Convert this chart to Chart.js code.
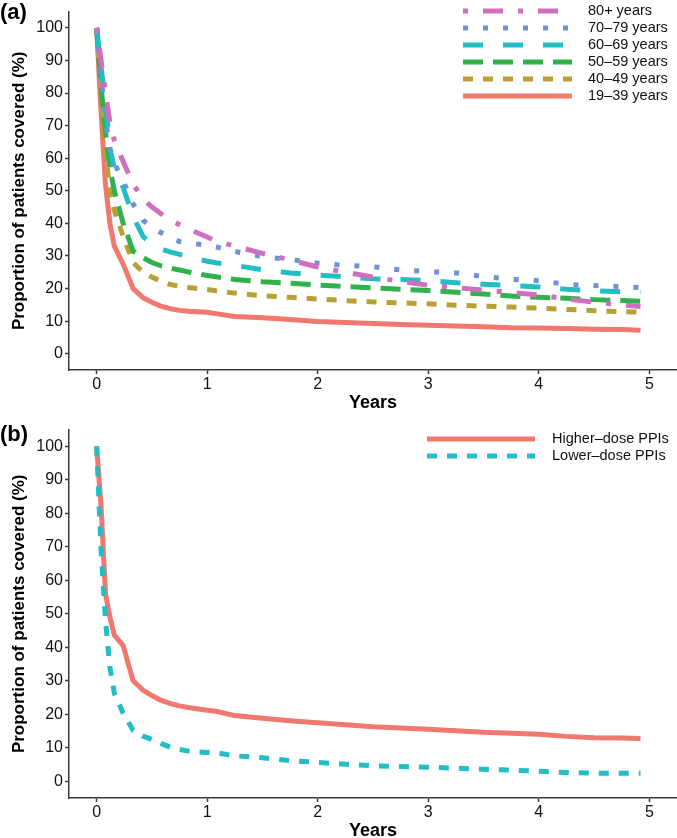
<!DOCTYPE html>
<html>
<head>
<meta charset="utf-8">
<script src="https://cdn.jsdelivr.net/npm/chart.js@4.4.1/dist/chart.umd.min.js"></script>
<style>
  body { margin: 0; background: #fff; }
  .panel { position: relative; width: 677px; }
  .panel canvas { display: block; }
  .tag { position: absolute; left: 0; font: bold 22px "Liberation Sans", Arial, sans-serif; color: #000; line-height: 24px; }
</style>
</head>
<body>
<div class="panel" style="height:418px">
  <canvas id="chartA" width="677" height="418"></canvas>
  <div class="tag" style="top:0">(a)</div>
</div>
<div class="panel" style="height:420px">
  <canvas id="chartB" width="677" height="420"></canvas>
  <div class="tag" style="top:4px">(b)</div>
</div>
<script>
// follow-up time (years)
const years = [0, 0.04, 0.08, 0.12, 0.16, 0.24, 0.33, 0.42, 0.5, 0.58, 0.67, 0.75, 0.83, 1.0, 1.08,
  1.25, 1.5, 1.75, 2.0, 2.25, 2.5, 2.75, 3.0, 3.25, 3.5, 3.75, 4.0, 4.25, 4.5, 4.75, 4.92];

// panel (a): proportion covered by age group (%)
const age19to39 = [100, 74, 52, 40, 33, 27.5, 20, 17.2, 15.8, 14.6, 13.8, 13.3, 13.0, 12.7, 12.3,
  11.4, 11.0, 10.5, 9.9, 9.6, 9.3, 9.0, 8.7, 8.5, 8.3, 8.0, 7.9, 7.7, 7.5, 7.4, 7.2];
const age40to49 = [100, 80, 62, 50, 44, 36, 28, 25, 23.5, 22.3, 21.2, 20.7, 20.3, 19.7, 19.3,
  18.6, 17.8, 17.3, 16.8, 16.3, 15.9, 15.6, 15.3, 14.9, 14.6, 14.3, 14.0, 13.6, 13.2, 12.9, 12.8];
const age50to59 = [100, 82, 68, 57, 50, 40, 31.5, 29.5, 28, 27, 26.2, 25.7, 25.1, 24.0, 23.6,
  22.8, 22.1, 21.6, 21.1, 20.6, 20.2, 19.8, 19.4, 18.9, 18.3, 17.7, 17.3, 17.0, 16.6, 16.3, 16.1];
const age60to69 = [100, 88, 77, 63, 57, 51, 42, 36, 33.5, 32.2, 31.2, 30.5, 29.7, 28.4, 27.9,
  27.1, 25.8, 24.8, 24.1, 23.6, 23.0, 22.8, 22.4, 21.8, 21.3, 20.9, 20.5, 19.8, 19.3, 19.0, 19.0];
const age70to79 = [100, 85, 72, 63, 58.5, 53, 46, 41, 38.6, 37.2, 35.6, 34.4, 34.0, 33.3, 32.8,
  31.4, 29.8, 28.9, 27.8, 27.1, 26.7, 25.7, 25.2, 24.8, 23.7, 22.8, 22.4, 21.3, 20.9, 20.6, 20.3];
const age80plus = [100, 90, 80, 71, 65.5, 59, 52, 47.5, 45, 43, 41, 39.6, 38.3, 35.8, 34.6,
  33.0, 30.8, 28.8, 26.6, 25.0, 23.5, 22.2, 21.0, 20.3, 19.5, 18.8, 18.0, 16.8, 15.8, 15.0, 14.5];

// panel (b): proportion covered by PPI dose (%)
const higherDose = [100, 82, 56, 49, 43.6, 40.5, 30, 27.2, 25.6, 24.2, 23.2, 22.5, 22.0, 21.2, 20.9,
  19.6, 18.8, 18.1, 17.5, 16.9, 16.3, 15.9, 15.5, 15.1, 14.6, 14.3, 14.0, 13.4, 13.0, 12.9, 12.8];
const lowerDose = [100, 69, 48, 34, 26.3, 20.3, 15.2, 13.5, 12.5, 11.3, 10.1, 9.5, 9.0, 8.6, 8.5,
  7.6, 7.0, 6.2, 5.6, 5.1, 4.6, 4.4, 4.2, 3.9, 3.6, 3.3, 3.0, 2.6, 2.4, 2.4, 2.4];

const ageLabels = ['19–39 years', '40–49 years', '50–59 years', '60–69 years', '70–79 years', '80+ years'];
const doseLabels = ['Higher–dose PPIs', 'Lower–dose PPIs'];
const xTicks = [0, 1, 2, 3, 4, 5];
const yTicks = [0, 10, 20, 30, 40, 50, 60, 70, 80, 90, 100];

const fontFamily = '"Liberation Sans", Arial, Helvetica, sans-serif';
const axisColor = '#3a3a3a';

const toPoints = (values) => values.map((v, i) => ({ x: years[i], y: v }));

// legend drawn as line samples, like the ggplot key
const lineLegend = {
  id: 'lineLegend',
  afterDraw(chart, args, opts) {
    if (!opts || !opts.order) return;
    const { ctx } = chart;
    const sets = chart.data.datasets;
    ctx.save();
    ctx.font = `14.5px ${fontFamily}`;
    ctx.textBaseline = 'middle';
    opts.order.forEach((idx, row) => {
      const ds = sets[idx];
      const y = opts.top + row * opts.rowHeight;
      ctx.beginPath();
      ctx.lineCap = 'butt';
      ctx.strokeStyle = ds.borderColor;
      ctx.lineWidth = ds.borderWidth;
      ctx.setLineDash(ds.borderDash || []);
      ctx.moveTo(opts.x0, y);
      ctx.lineTo(opts.x1, y);
      ctx.stroke();
      ctx.setLineDash([]);
      ctx.fillStyle = '#111';
      ctx.fillText(ds.label, opts.textX, y);
    });
    ctx.restore();
  },
};

function buildOptions(cfg) {
  return {
    responsive: false,
    animation: false,
    layout: { padding: { top: cfg.padTop, right: 0, bottom: 0, left: 0 } },
    elements: {
      point: { radius: 0 },
      line: { tension: 0, borderCapStyle: 'butt', borderJoinStyle: 'round' },
    },
    plugins: {
      legend: { display: false },
      tooltip: { enabled: false },
      lineLegend: cfg.legend,
    },
    scales: {
      x: {
        type: 'linear',
        min: -0.25,
        max: 5.25,
        afterBuildTicks: (scale) => { scale.ticks = xTicks.map((v) => ({ value: v })); },
        afterFit: (scale) => { scale.height = cfg.xHeight; },
        border: { display: true, color: axisColor, width: 1.5 },
        grid: { drawOnChartArea: false, drawTicks: true, tickLength: 4, tickColor: axisColor, tickWidth: 1.5 },
        ticks: { color: '#111', font: { family: fontFamily, size: 16 }, padding: 1, maxRotation: 0, autoSkip: false },
        title: {
          display: true,
          text: 'Years',
          color: '#000',
          font: { family: fontFamily, size: 18, weight: 'bold' },
          padding: { top: 0, bottom: cfg.xTitlePad },
        },
      },
      y: {
        type: 'linear',
        min: -5,
        max: 105,
        afterBuildTicks: (scale) => { scale.ticks = yTicks.map((v) => ({ value: v })); },
        afterFit: (scale) => { scale.width = 69; },
        border: { display: true, color: axisColor, width: 1.5 },
        grid: { drawOnChartArea: false, drawTicks: true, tickLength: 4, tickColor: axisColor, tickWidth: 1.5 },
        ticks: { color: '#111', font: { family: fontFamily, size: 16 }, padding: 2 },
        title: {
          display: true,
          text: 'Proportion of patients covered (%)',
          color: '#000',
          font: { family: fontFamily, size: 17, weight: 'bold' },
          padding: { top: 9, bottom: 0 },
        },
      },
    },
  };
}

const ageColors = ['#F0786E', '#B9A034', '#30B24B', '#22BEC5', '#6D92D6', '#D16FBF'];
const ageDashes = [[], [10, 10], [20, 10], [20, 20], [5, 15], [5, 15, 20, 15]];
const ageSeries = [age19to39, age40to49, age50to59, age60to69, age70to79, age80plus];

new Chart(document.getElementById('chartA'), {
  type: 'line',
  data: {
    datasets: ageSeries.map((values, i) => ({
      label: ageLabels[i],
      data: toPoints(values),
      borderColor: ageColors[i],
      borderWidth: 5,
      borderDash: ageDashes[i],
      fill: false,
      order: ageSeries.length - i,
    })),
  },
  options: buildOptions({
    padTop: 1,
    xHeight: 48,
    xTitlePad: 4,
    legend: { x0: 463, x1: 572, textX: 588, top: 11, rowHeight: 17, order: [5, 4, 3, 2, 1, 0] },
  }),
  plugins: [lineLegend],
});

new Chart(document.getElementById('chartB'), {
  type: 'line',
  data: {
    datasets: [
      {
        label: doseLabels[0],
        data: toPoints(higherDose),
        borderColor: '#F0786E',
        borderWidth: 5,
        borderDash: [],
        fill: false,
        order: 1,
      },
      {
        label: doseLabels[1],
        data: toPoints(lowerDose),
        borderColor: '#22BEC5',
        borderWidth: 5,
        borderDash: [10, 10],
        fill: false,
        order: 0,
      },
    ],
  },
  options: buildOptions({
    padTop: 11,
    xHeight: 40,
    xTitlePad: -4,
    legend: { x0: 427, x1: 535, textX: 552, top: 21, rowHeight: 17, order: [0, 1] },
  }),
  plugins: [lineLegend],
});
</script>
</body>
</html>
